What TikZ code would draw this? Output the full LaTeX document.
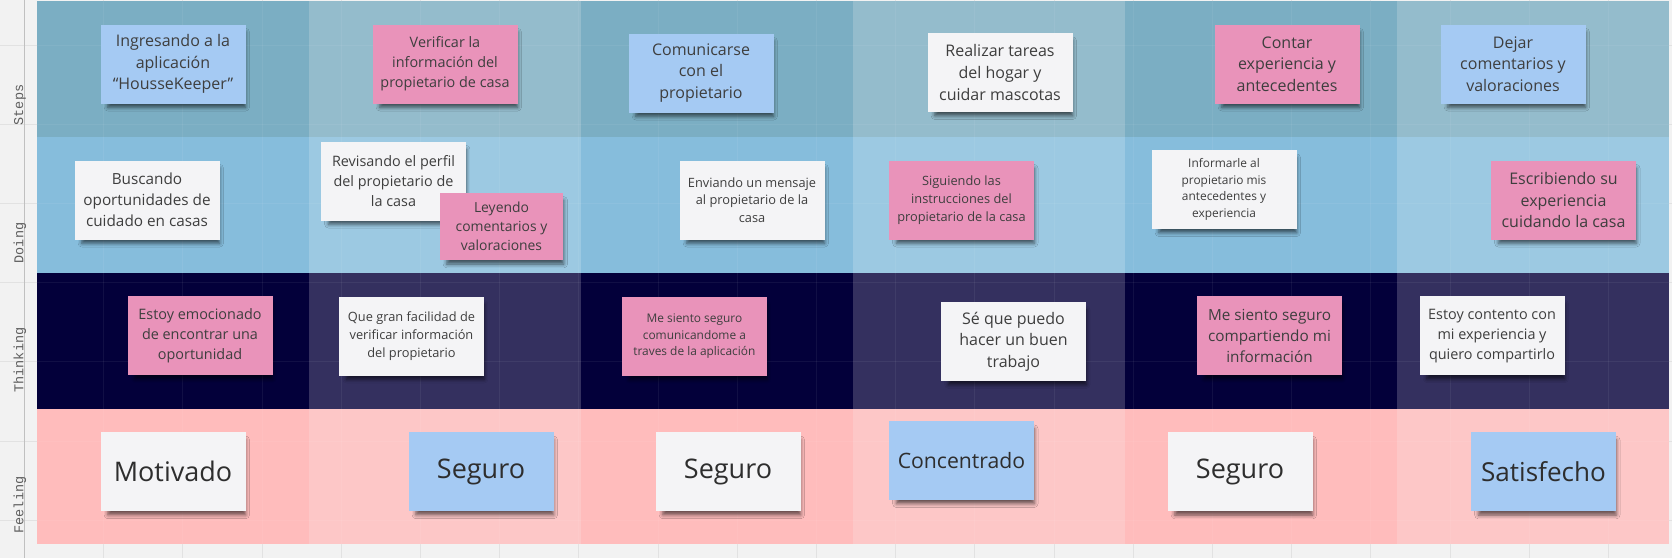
\documentclass[tikz,border=0pt]{standalone}
\usepackage{fontspec}
\setmainfont{Open Sans}
\newfontfamily\lblfont{Liberation Mono}
\usetikzlibrary{shadows.blur}

\definecolor{bg}{HTML}{F2F2F2}
\definecolor{gridc}{HTML}{E2E2E2}
\definecolor{sA}{HTML}{7BAEC3}
\definecolor{sB}{HTML}{94BCCC}
\definecolor{dA}{HTML}{86BDDC}
\definecolor{dB}{HTML}{9CC9E2}
\definecolor{tA}{HTML}{03003A}
\definecolor{tB}{HTML}{34305F}
\definecolor{fA}{HTML}{FFBCBC}
\definecolor{fB}{HTML}{FDC7C7}
\definecolor{nblue}{HTML}{A5CAF3}
\definecolor{npink}{HTML}{E993BA}
\definecolor{nwhite}{HTML}{F4F4F6}
\definecolor{ntext}{HTML}{3E3E3E}
\definecolor{lbltext}{HTML}{5E5E5E}

\tikzset{
  gridline/.style={draw=gridc, line width=1pt},
  note/.style={minimum width=145pt, minimum height=79pt, inner sep=2pt,
    align=center, text=ntext,
    blur shadow={shadow xshift=4pt, shadow yshift=-6pt, shadow opacity=60,
      shadow blur radius=4pt, shadow scale=0.95}},
  bluenote/.style={note, fill=nblue},
  pinknote/.style={note, fill=npink},
  whitenote/.style={note, fill=nwhite},
  fA16/.style={font=\fontsize{16}{21.7}\selectfont},
  fA15/.style={font=\fontsize{15.3}{20.8}\selectfont},
  fA14/.style={font=\fontsize{14.4}{20}\selectfont},
  fA13/.style={font=\fontsize{12.8}{17.7}\selectfont},
  fA12/.style={font=\fontsize{11.9}{16.7}\selectfont},
  fbig/.style={font=\fontsize{27}{36}\selectfont, text=black!82},
  lane/.style={rotate=90, font=\lblfont\fontsize{13.5}{14}\selectfont, text=lbltext}
}

\begin{document}
\begin{tikzpicture}[x=1pt,y=-1pt]
\useasboundingbox (0,0) rectangle (1672,558);
\fill[bg] (0,0) rectangle (1672,558);
% background grid
\foreach \i in {0,...,20} \draw[gridline] ({24.4+79.2*\i},0) -- ({24.4+79.2*\i},558);
\foreach \j in {0,...,6} \draw[gridline] (0,{45.5+79.1*\j}) -- (1672,{45.5+79.1*\j});
\draw[draw=gridc!85!black, line width=1pt] (24.4,0) -- (24.4,558);

% cells
\foreach \c/\cs/\cd/\ct/\cf in {0/sA/dA/tA/fA, 1/sB/dB/tB/fB, 2/sA/dA/tA/fA, 3/sB/dB/tB/fB, 4/sA/dA/tA/fA, 5/sB/dB/tB/fB} {
  \pgfmathsetmacro\xa{37+272*\c}
  \pgfmathsetmacro\xb{37+272*(\c+1)}
  \fill[\cs] (\xa,1) rectangle (\xb,136.5);
  \fill[\cd] (\xa,136.5) rectangle (\xb,273);
  \fill[\ct] (\xa,273) rectangle (\xb,408.5);
  \fill[\cf] (\xa,408.5) rectangle (\xb,544);
}
% faint grid through the cells
\begin{scope}
\clip (37,1) rectangle (1669,544);
\foreach \i in {1,...,20} \draw[white, opacity=0.06, line width=1pt] ({24.4+79.2*\i},0) -- ({24.4+79.2*\i},558);
\foreach \j in {0,...,6} \draw[white, opacity=0.06, line width=1pt] (0,{45.5+79.1*\j}) -- (1672,{45.5+79.1*\j});
\end{scope}

% lane labels
\node[lane] (lsteps) at (20,105) {Steps};
\node[lane] (ldoing) at (20,243) {Doing};
\node[lane] (lthink) at (20,360) {Thinking};
\node[lane] (lfeel) at (20,505) {Feeling};

% Steps
\node[bluenote, fA16] (n11) at (173,64) {Ingresando a la\\aplicación\\“HousseKeeper”};
\node[pinknote, fA14] (n12) at (445,64) {Verificar la\\información del\\propietario de casa};
\node[bluenote, fA16] (n13) at (701,73) {Comunicarse\\con el\\propietario};
\node[whitenote, fA16] (n14) at (1000,72.5) {Realizar tareas\\del hogar y\\cuidar mascotas};
\node[pinknote, fA16] (n15) at (1287,64) {Contar\\experiencia y\\antecedentes};
\node[bluenote, fA16] (n16) at (1513,64) {Dejar\\comentarios y\\valoraciones};

% Doing
\node[whitenote, fA15] (n21) at (147,200) {Buscando\\oportunidades de\\cuidado en casas};
\node[whitenote, fA14] (n22) at (393.5,181) {Revisando el perfil\\del propietario de\\la casa};
\node[pinknote, font=\fontsize{13.9}{19}\selectfont, minimum width=123pt, minimum height=67pt] (n23) at (501.5,226.5) {Leyendo\\comentarios y\\valoraciones};
\node[whitenote, fA13] (n24) at (752,200) {Enviando un mensaje\\al propietario de la\\casa};
\node[pinknote, fA13] (n25) at (961.5,200) {Siguiendo las\\instrucciones del\\propietario de la casa};
\node[whitenote, fA12] (n26) at (1224,189.5) {Informarle al\\propietario mis\\antecedentes y\\experiencia};
\node[pinknote, fA16] (n27) at (1563.5,200) {Escribiendo su\\experiencia\\cuidando la casa};

% Thinking
\node[pinknote, fA14] (n31) at (200,335.7) {Estoy emocionado\\de encontrar una\\oportunidad};
\node[whitenote, fA13] (n32) at (411.5,336) {Que gran facilidad de\\verificar información\\del propietario};
\node[pinknote, fA12] (n33) at (694.4,336.3) {Me siento seguro\\comunicandome a\\traves de la aplicación};
\node[whitenote, fA16] (n34) at (1013.5,341.5) {Sé que puedo\\hacer un buen\\trabajo};
\node[pinknote, fA15] (n35) at (1269.5,335.7) {Me siento seguro\\compartiendo mi\\información};
\node[whitenote, fA14] (n36) at (1492,335.7) {Estoy contento con\\mi experiencia y\\quiero compartirlo};

% Feeling
\node[whitenote, fbig] (n41) at (173,471.7) {Motivado};
\node[bluenote, fbig] (n42) at (481,471.7) {Seguro};
\node[whitenote, fbig] (n43) at (728,471.7) {Seguro};
\node[bluenote, fbig, font=\fontsize{21.2}{28}\selectfont] (n44) at (961.5,460.5) {Concentrado};
\node[whitenote, fbig] (n45) at (1240,471.8) {Seguro};
\node[bluenote, fbig, font=\fontsize{26.1}{35}\selectfont] (n46) at (1543.5,471.8) {Satisfecho};
\end{tikzpicture}
\end{document}
